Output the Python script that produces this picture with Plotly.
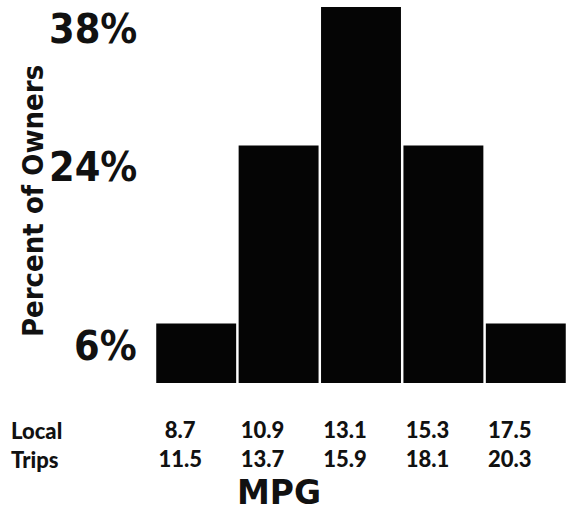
import plotly.graph_objects as go

# share of owners per MPG band
pct = [6, 24, 38, 24, 6]
local_mpg = ["8.7", "10.9", "13.1", "15.3", "17.5"]
trips_mpg = ["11.5", "13.7", "15.9", "18.1", "20.3"]
pct_labels = ["6%", "24%", "38%"]
pct_label_vals = [6, 24, 38]

tick_text = [f"{a}<br>{b}" for a, b in zip(local_mpg, trips_mpg)]

NARROW = "'DejaVu Sans Condensed', 'Liberation Sans Narrow', sans-serif"

fig = go.Figure()
fig.add_trace(go.Bar(
    x=local_mpg,
    y=pct,
    marker=dict(color="#050505", line=dict(width=0)),
    showlegend=False,
))

# big condensed percent labels sitting level with the bar tops
for txt, v in zip(pct_labels, pct_label_vals):
    fig.add_annotation(
        x=0, xref="paper", xanchor="right", xshift=-16,
        y=v, yref="y", yanchor="top", yshift=4,
        text=txt, showarrow=False,
        font=dict(family=NARROW, size=41, color="#111", weight="bold"),
    )

fig.add_annotation(
    x=0, xref="paper", xshift=-122, xanchor="center",
    y=0.475, yref="paper", yanchor="middle",
    text="Percent of Owners", textangle=-90, showarrow=False,
    font=dict(family=NARROW, size=29, color="#111", weight="bold"),
)

row_font = dict(family="Lato, Roboto, sans-serif", size=22, color="#111", weight=900)
fig.add_annotation(x=0, xref="paper", xshift=-146, xanchor="left",
                   y=-0.123, yref="paper", yanchor="middle",
                   text="Local", showarrow=False, font=row_font)
fig.add_annotation(x=0, xref="paper", xshift=-146, xanchor="left",
                   y=-0.2, yref="paper", yanchor="middle",
                   text="Trips", showarrow=False, font=row_font)

fig.add_annotation(
    x=0.30, xref="paper", xanchor="center",
    y=-0.287, yref="paper", yanchor="middle",
    text="MPG", showarrow=False,
    font=dict(family="DejaVu Sans", size=33, color="#111", weight="bold"),
)

fig.update_layout(
    width=567, height=515,
    margin=dict(l=155, r=0, t=0, b=132),
    plot_bgcolor="white",
    paper_bgcolor="white",
    bargap=0.03,
    xaxis=dict(
        tickvals=local_mpg, ticktext=tick_text,
        tickfont=row_font,
        showline=False, showgrid=False, zeroline=False,
        ticks="", ticklabelstandoff=32, ticklabelshift=-16,
    ),
    yaxis=dict(
        range=[0, 38.7],
        showticklabels=False, showgrid=False, zeroline=False, showline=False,
    ),
)

fig.write_html("out.html", config={"displayModeBar": False},
               post_script="document.body.style.margin='0';")
